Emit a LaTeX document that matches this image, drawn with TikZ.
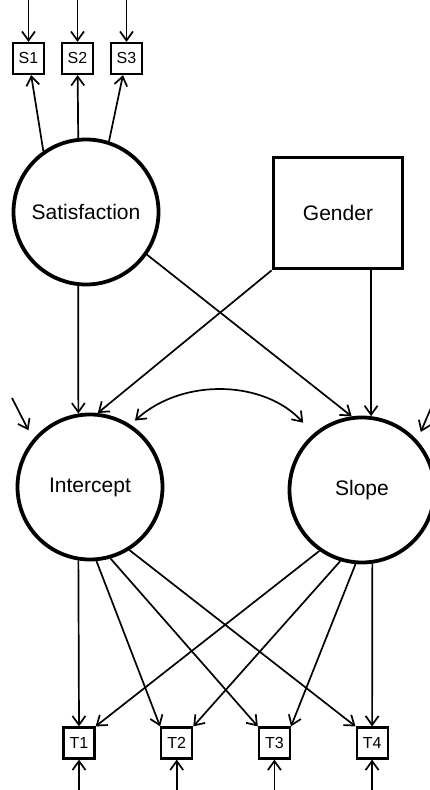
\documentclass[tikz,border=0pt]{standalone}
\usepackage{fontspec}
\setmainfont{Liberation Sans}
\usepackage{tikz}
\usetikzlibrary{positioning,arrows.meta}

\begin{document}
\begin{tikzpicture}[x=1pt, y=1pt,
    sem latent/.style={draw, circle, line width=3.8pt, minimum size=145pt, inner sep=0pt, font=\fontsize{21}{25}\selectfont},
    sem observed/.style={draw, rectangle, line width=3.8pt, minimum width=129pt, minimum height=111pt, font=\fontsize{21}{25}\selectfont},
    sem item/.style={draw, rectangle, line width=2.2pt, minimum width=31pt, minimum height=31pt, inner sep=0pt, font=\fontsize{16}{19}\selectfont},
    sem path/.style={line width=1.7pt, -{Straight Barb[length=9pt, width=13pt]}},
    sem cov/.style={line width=1.7pt, {Straight Barb[length=9pt, width=13pt]}-{Straight Barb[length=9pt, width=13pt]}},
    node distance=49pt]
    \useasboundingbox (0,0) rectangle (430,790);
    \node[sem latent] (sat) at (86,578) {Satisfaction};
    \node[sem observed, right of=sat, node distance=252pt, yshift=-1pt] (gen) {Gender};
    \node[sem latent, below of=sat, node distance=275pt, xshift=4pt] (int) {Intercept};
    \node[sem latent, right of=int, node distance=272pt, yshift=-3pt] (slo) {Slope};
    \node[sem item, above of=sat, node distance=153.5pt, xshift=-8.5pt] (s2) {S2};
    \node[sem item, left of=s2] (s1) {S1};
    \node[sem item, right of=s2] (s3) {S3};
    \node[sem item, below of=int, node distance=256pt, xshift=-11pt] (t1) {T1};
    \node[sem item, right of=t1, node distance=97.7pt] (t2) {T2};
    \node[sem item, right of=t2, node distance=97.7pt] (t3) {T3};
    \node[sem item, right of=t3, node distance=97.7pt] (t4) {T4};
    \coordinate[above left=89pt and 78pt of int.center] (rint);
    \coordinate[above right=94pt and 74pt of slo.center] (rslo);

    \foreach \s in {s1,s2,s3} {
        \coordinate[above of=\s, node distance=60pt] (e\s);
        \draw[sem path] (e\s) -- (\s);
    }
    \foreach \t in {t1,t2,t3,t4} {
        \coordinate[below of=\t, node distance=48pt] (e\t);
        \draw[sem path] (e\t) -- (\t);
    }
    \foreach \a/\b in {125/s1, 96/s2, 72/s3}
        \draw[sem path] (sat.\a) -- (\b);
    \draw[sem path] (sat.-96) -- (int.99);
    \draw[sem path] (gen.south west) -- (int.84);
    \draw[sem path] (sat.-35) -- (slo.98);
    \draw[sem path] (gen.south -| slo.83) -- (slo.83);
    \draw[sem cov, shorten <=6pt, shorten >=15pt] (int.57) to[bend left=45] (slo.131);
    \draw[sem path, shorten >=10pt] (rint) -- (int.140);
    \draw[sem path, shorten >=9pt] (rslo) -- (slo.42);
    \foreach \a/\b in {-99/t1.north, -85/t2.north west, -74/t3.north west, -58/t4.north west}
        \draw[sem path] (int.\a) -- (\b);
    \foreach \a/\b in {-125/t1.north east, -107/t2.north east, -95/t3.north east, -82/t4.north}
        \draw[sem path] (slo.\a) -- (\b);

\end{tikzpicture}
\end{document}
